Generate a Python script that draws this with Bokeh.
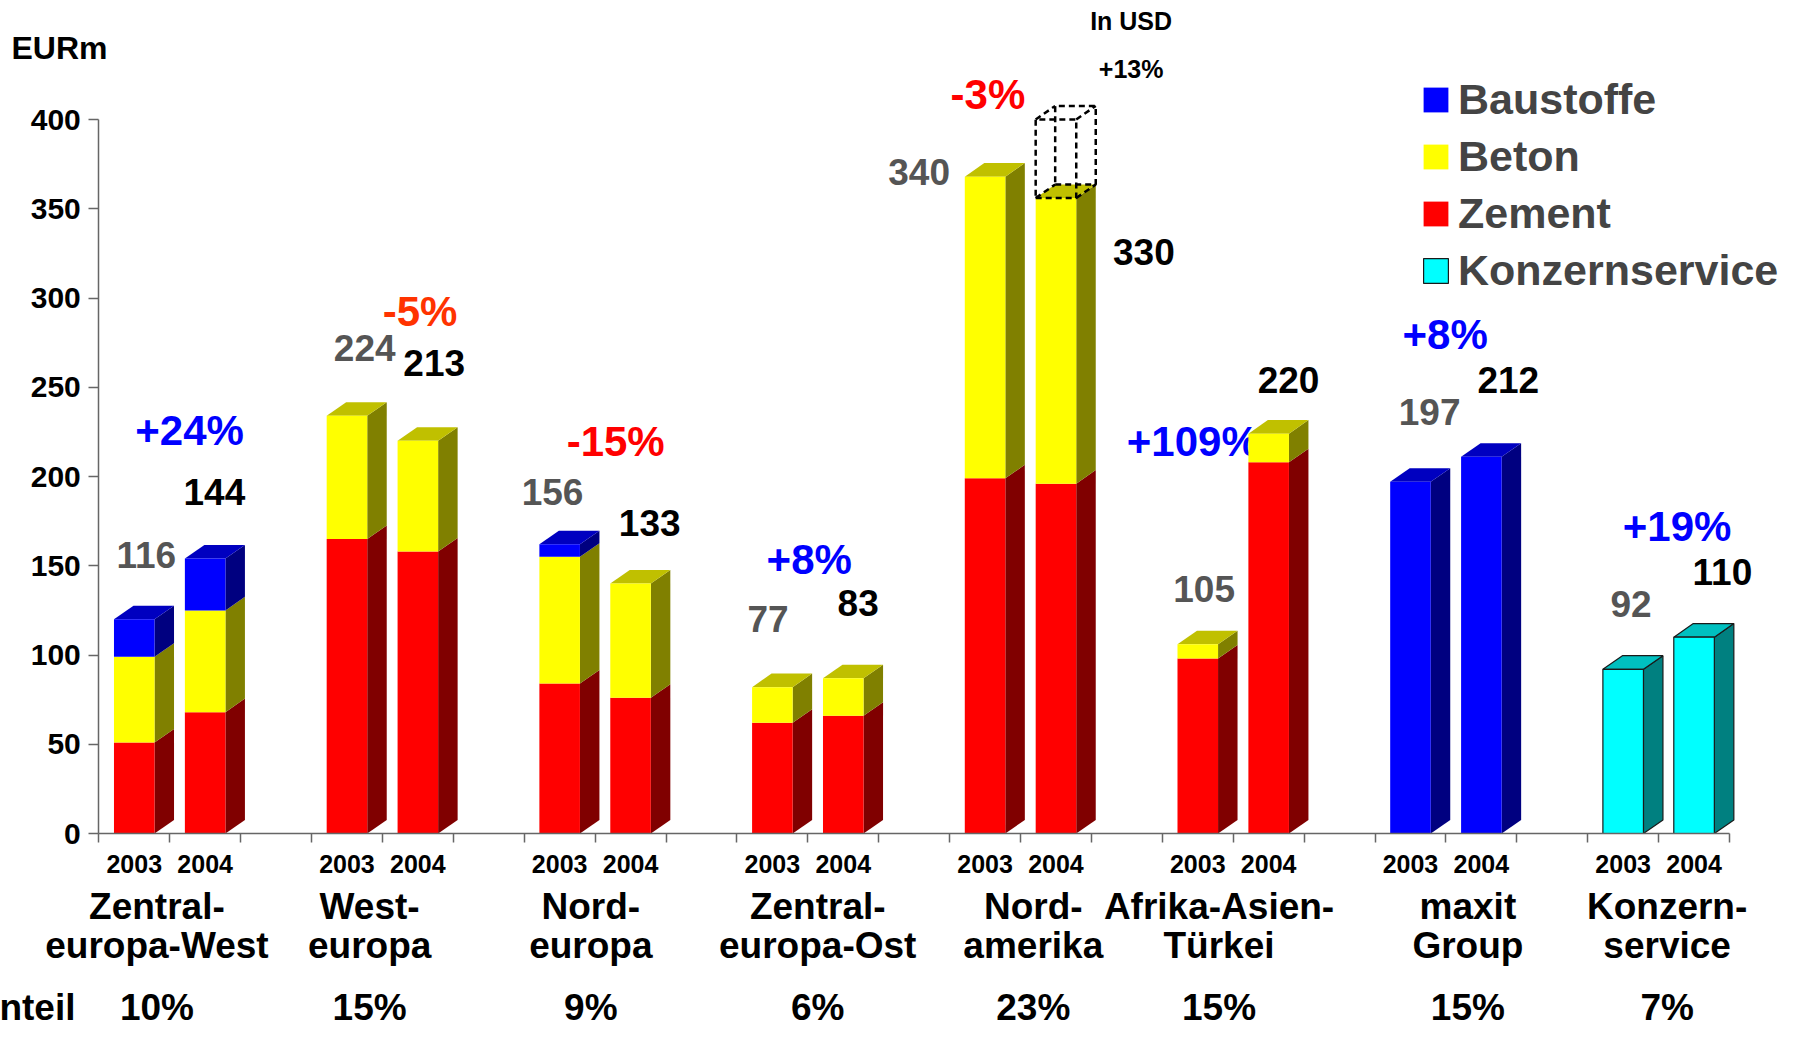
from bokeh.plotting import figure
from bokeh.models import (ColumnDataSource, LinearAxis, FixedTicker, Range1d,
                          Legend, LegendItem, CustomJSTickFormatter)
from bokeh.core.properties import value
from bokeh.embed import file_html
from bokeh.resources import INLINE

# ---------------- data ----------------
group_line1 = ["Zentral-", "West-", "Nord-", "Zentral-", "Nord-", "Afrika-Asien-", "maxit", "Konzern-"]
group_line2 = ["europa-West", "europa", "europa", "europa-Ost", "amerika", "Türkei", "Group", "service"]
years = ["2003", "2004"]
anteil = ["10%", "15%", "9%", "6%", "23%", "15%", "15%", "7%"]

zement_2003 = [51, 165, 84, 62, 199, 98, 0, 0]
zement_2004 = [68, 158, 76, 66, 196, 208, 0, 0]
beton_2003 = [48, 69, 71, 20, 169, 8, 0, 0]
beton_2004 = [57, 62, 64, 21, 160, 16, 0, 0]
baustoffe_2003 = [21, 0, 7, 0, 0, 0, 197, 0]
baustoffe_2004 = [29, 0, 0, 0, 0, 0, 211, 0]
konzern_2003 = [0, 0, 0, 0, 0, 0, 0, 92]
konzern_2004 = [0, 0, 0, 0, 0, 0, 0, 110]

total_2003 = ["116", "224", "156", "77", "340", "105", "197", "92"]
total_2004 = ["144", "213", "133", "83", "330", "220", "212", "110"]
change = ["+24%", "-5%", "-15%", "+8%", "-3%", "+109%", "+8%", "+19%"]
usd_nordamerika_2004 = 400
y_ticks = [0, 50, 100, 150, 200, 250, 300, 350, 400]

# ---------------- layout / style ----------------
FONT = "Liberation Sans"
HW = 0.286      # half width of bar front (slot units)
DX = 0.275      # 3D depth, x (slot units)
DY = 7.6        # 3D depth, y (value units)
PX_PER_UNIT = 1.785
BASE_FIX = 0.375   # text glyph baseline correction (in em)


def ty(v, size):
    return v + BASE_FIX * size / PX_PER_UNIT


series = [
    ("Zement", zement_2003, zement_2004, "#FF0000", "#800000", "#C00000", None),
    ("Beton", beton_2003, beton_2004, "#FFFF00", "#808000", "#C0C000", None),
    ("Baustoffe", baustoffe_2003, baustoffe_2004, "#0000FF", "#000080", "#0000C0", None),
    ("Konzernservice", konzern_2003, konzern_2004, "#00FFFF", "#008080", "#00C0C0", "#1a1a1a"),
]

group_label_x = [0.82, 3.82, 6.94, 10.14, 13.18, 15.80, 19.31, 22.12]
val03_pos = [(0.67, 148), (3.75, 264.4), (6.40, 183.8), (9.44, 112.3), (11.57, 363), (15.59, 129.4), (18.77, 228.6), (21.61, 121)]
val04_pos = [(1.63, 183.8), (4.73, 255.6), (7.77, 166), (10.71, 121.6), (14.74, 318.2), (16.78, 246.5), (19.88, 246.5), (22.90, 139)]
chg_pos = [(1.28, 216.8), (4.53, 283.5), (7.29, 211), (10.02, 144.5), (12.54, 405), (15.43, 211), (18.99, 270.6), (22.26, 163)]
chg_colors = ["#0000FF", "#FF3300", "#FF0000", "#0000FF", "#FF0000", "#0000FF", "#0000FF", "#0000FF"]

VAL_SIZE, CHG_SIZE = 37, 42

W, H = 1780, 1028
p = figure(width=W, height=H, x_range=Range1d(-1.3865, 23.719), y_range=Range1d(-109.24, 466.67),
           x_axis_type=None, y_axis_type=None, toolbar_location=None, output_backend="svg",
           min_border=0)
p.outline_line_color = None
p.background_fill_color = "white"
p.border_fill_color = "white"

# change labels (behind bars)
p.text(x=[q[0] for q in chg_pos], y=[ty(q[1], CHG_SIZE) for q in chg_pos], text=change,
       text_color=chg_colors, text_font=value(FONT), text_font_style="bold",
       text_font_size=f"{CHG_SIZE}px", text_align="center", text_baseline="alphabetic")

# ---------------- bar geometry ----------------
fronts = {s[0]: dict(left=[], right=[], bottom=[], top=[]) for s in series}
sides = {s[0]: dict(xs=[], ys=[]) for s in series}
tops = {s[0]: dict(xs=[], ys=[]) for s in series}
bar_top = {}
for g in range(8):
    for yi in range(2):
        xc = 3 * g + 0.5 + yi
        xl, xr = xc - HW, xc + HW
        base = 0
        last = None
        for name, v03, v04, *_ in series:
            v = (v03, v04)[yi][g]
            if v <= 0:
                continue
            b, t = base, base + v
            fronts[name]["left"].append(xl)
            fronts[name]["right"].append(xr)
            fronts[name]["bottom"].append(b)
            fronts[name]["top"].append(t)
            sides[name]["xs"].append([xr, xr + DX, xr + DX, xr])
            sides[name]["ys"].append([b, b + DY, t + DY, t])
            base = t
            last = name
        if last is not None:
            tops[last]["xs"].append([xl, xl + DX, xr + DX, xr])
            tops[last]["ys"].append([base, base + DY, base + DY, base])
        bar_top[(g, yi)] = base

front_renderers = {}
for name, _, _, fc, sc, tc, oc in series:
    lc = oc if oc else None
    p.patches(xs="xs", ys="ys", source=ColumnDataSource(sides[name]), fill_color=sc,
              line_color=lc, line_width=1.2)
    p.patches(xs="xs", ys="ys", source=ColumnDataSource(tops[name]), fill_color=tc,
              line_color=lc, line_width=1.2)
    front_renderers[name] = p.quad(left="left", right="right", bottom="bottom", top="top",
                                   source=ColumnDataSource(fronts[name]), fill_color=fc,
                                   line_color=lc, line_width=1.2)

# dashed USD box on Nordamerika 2004
g, yi = 4, 1
xc = 3 * g + 0.5 + yi
xl, xr = xc - HW, xc + HW
t0, t1 = bar_top[(g, yi)], usd_nordamerika_2004
box_xs = [[xl, xr, xr, xl, xl], [xl + DX, xr + DX, xr + DX, xl + DX, xl + DX],
          [xl, xl + DX], [xr, xr + DX], [xr, xr + DX], [xl, xl + DX]]
box_ys = [[t0, t0, t1, t1, t0], [t0 + DY, t0 + DY, t1 + DY, t1 + DY, t0 + DY],
          [t0, t0 + DY], [t0, t0 + DY], [t1, t1 + DY], [t1, t1 + DY]]
p.multi_line(xs=box_xs, ys=box_ys, line_color="black", line_width=2.5, line_dash="6 4")

# value labels
p.text(x=[q[0] for q in val03_pos], y=[ty(q[1], VAL_SIZE) for q in val03_pos], text=total_2003,
       text_color="#555555", text_font=value(FONT), text_font_style="bold",
       text_font_size=f"{VAL_SIZE}px", text_align="center", text_baseline="alphabetic")
p.text(x=[q[0] for q in val04_pos], y=[ty(q[1], VAL_SIZE) for q in val04_pos], text=total_2004,
       text_color="black", text_font=value(FONT), text_font_style="bold",
       text_font_size=f"{VAL_SIZE}px", text_align="center", text_baseline="alphabetic")

# other texts
p.text(x=[-1.232], y=[ty(433.1, 32)], text=["EURm"], text_font=value(FONT), text_font_style="bold",
       text_font_size="32px", text_align="left", text_baseline="alphabetic", text_color="black")
p.text(x=[14.56, 14.56], y=[ty(449.9, 25), ty(423, 25)], text=["In USD", "+13%"],
       text_font=value(FONT), text_font_style="bold", text_font_size="25px",
       text_align="center", text_baseline="alphabetic", text_color="black")
p.text(x=[-0.329], y=[ty(-105.5, 37)], text=["Anteil"], text_font=value(FONT),
       text_font_style="bold", text_font_size="37px", text_align="right",
       text_baseline="alphabetic", text_color="black")

# ---------------- axes ----------------
AX = "#666666"
yaxis = LinearAxis(fixed_location=0, bounds=(0, 400), ticker=FixedTicker(ticks=y_ticks))
yaxis.axis_line_color = AX
yaxis.axis_line_width = 1.5
yaxis.major_tick_line_color = AX
yaxis.major_tick_line_width = 1.5
yaxis.major_tick_in = 0
yaxis.major_tick_out = 10
yaxis.minor_tick_line_color = None
yaxis.major_label_standoff = 8
yaxis.major_label_text_font = FONT
yaxis.major_label_text_font_style = "bold"
yaxis.major_label_text_font_size = "30px"
yaxis.major_label_text_color = "black"
p.add_layout(yaxis, "left")

xaxis = LinearAxis(fixed_location=0, bounds=(0, 23), ticker=FixedTicker(ticks=list(range(24))),
                   formatter=CustomJSTickFormatter(code="return ''"))
xaxis.axis_line_color = AX
xaxis.axis_line_width = 1.5
xaxis.major_tick_line_color = AX
xaxis.major_tick_line_width = 1.5
xaxis.major_tick_in = 0
xaxis.major_tick_out = 9
xaxis.minor_tick_line_color = None
p.add_layout(xaxis, "below")


def label_axis(ticks, labels, size, standoff):
    ax = LinearAxis(fixed_location=0, ticker=FixedTicker(ticks=ticks),
                    major_label_overrides={t: l for t, l in zip(ticks, labels)})
    ax.axis_line_color = None
    ax.major_tick_line_color = None
    ax.minor_tick_line_color = None
    ax.major_tick_in = 0
    ax.major_tick_out = 0
    ax.major_label_standoff = standoff
    ax.major_label_text_font = FONT
    ax.major_label_text_font_style = "bold"
    ax.major_label_text_font_size = size
    ax.major_label_text_color = "black"
    p.add_layout(ax, "below")
    return ax


year_ticks, year_labels = [], []
for g in range(8):
    for yi, yr in enumerate(years):
        year_ticks.append(3 * g + 0.5 + yi)
        year_labels.append(yr)
label_axis(year_ticks, year_labels, "25px", 21)
label_axis(group_label_x, group_line1, "37px", 52)
label_axis(group_label_x, group_line2, "37px", 91)
label_axis(group_label_x, anteil, "37px", 153)

# ---------------- legend ----------------
legend = Legend(items=[LegendItem(label=n, renderers=[front_renderers[n]])
                       for n in ["Baustoffe", "Beton", "Zement", "Konzernservice"]],
                location=(1420, 733.4))
legend.glyph_width = 31
legend.glyph_height = 31
legend.label_text_font = FONT
legend.label_text_font_style = "bold"
legend.label_text_font_size = "43px"
legend.label_standoff = 7
legend.spacing = 8
legend.padding = 0
legend.margin = 0
legend.border_line_color = None
legend.background_fill_alpha = 0
p.add_layout(legend)

open("out.html", "w").write(file_html(p, INLINE))
